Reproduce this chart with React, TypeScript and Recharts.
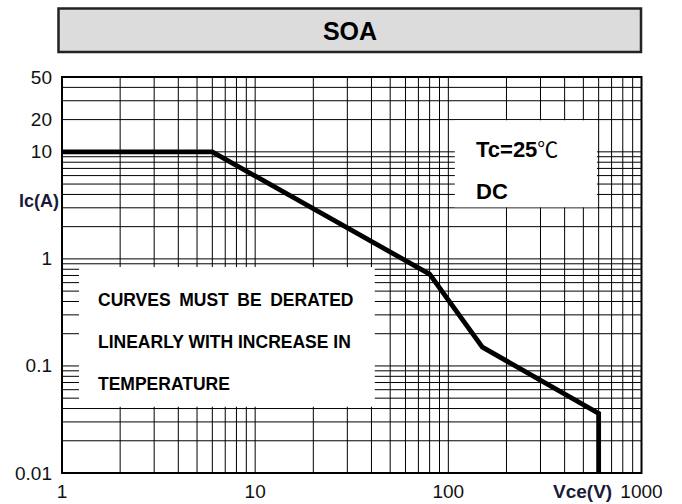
import React from "react";
import { LineChart, Line, XAxis, YAxis, CartesianGrid, ReferenceArea } from "recharts";

// ---- data ----
const vceValues = [1, 6, 80, 150, 600, 600];
const icValues = [10, 10, 0.72, 0.15, 0.036, 0.01];

const xGridTicks = [1, 2, 3, 4, 5, 6, 7, 8, 9, 10, 20, 30, 40, 50, 60, 70, 80, 90, 100, 200, 300, 400, 500, 600, 700, 800, 900, 1000];
const yGridTicks = [
  0.01, 0.02, 0.03, 0.04, 0.05, 0.06, 0.07, 0.08, 0.09,
  0.1, 0.2, 0.3, 0.4, 0.5, 0.6, 0.7, 0.8, 0.9,
  1, 2, 3, 4, 5, 6, 7, 8, 9,
  10, 20, 30, 40, 50,
];
const xTickLabels = [1, 10, 100, 1000];
const yTickLabels = [0.01, 0.1, 1, 10, 20, 50];

const titleText = "SOA";
const xAxisTitle = "Vce(V)";
const yAxisTitle = "Ic(A)";
const condLines = ["Tc=25", "DC"];
const noteLines = ["CURVES MUST BE DERATED", "LINEARLY WITH INCREASE IN", "TEMPERATURE"];

const data = vceValues.map((v, i) => ({ vce: v, ic: icValues[i] }));

const FONT = "'Liberation Sans', Arial, Helvetica, sans-serif";

const renderXTick = (props: any) => {
  const { x, y, payload } = props;
  if (!xTickLabels.includes(payload.value)) return <g />;
  return (
    <text x={x} y={y + 25} textAnchor="middle" fontFamily={FONT} fontSize={19} fill="#111">
      {String(payload.value)}
    </text>
  );
};

const renderYTick = (props: any) => {
  const { x, y, payload } = props;
  if (!yTickLabels.includes(payload.value)) return <g />;
  return (
    <text x={x} y={y + 6.5} textAnchor="end" fontFamily={FONT} fontSize={19} fill="#111">
      {String(payload.value)}
    </text>
  );
};

export default function App() {
  return (
    <div style={{ position: "absolute", left: 0, top: 0, width: 682, height: 504, background: "#fff" }}>
      <LineChart
        width={682}
        height={504}
        data={data}
        margin={{ top: 77, right: 40.5, bottom: 0, left: 0 }}
      >
        <CartesianGrid stroke="#000" strokeWidth={1} />
        <XAxis
          dataKey="vce"
          type="number"
          scale="log"
          domain={[1, 1000]}
          ticks={xGridTicks}
          allowDataOverflow
          height={31}
          axisLine={false}
          tickLine={false}
          tickSize={0}
          tickMargin={0}
          tick={renderXTick}
          interval={0}
        />
        <YAxis
          type="number"
          scale="log"
          domain={[0.01, 50]}
          ticks={yGridTicks}
          allowDataOverflow
          width={62}
          axisLine={false}
          tickLine={false}
          tickSize={10}
          tickMargin={0}
          tick={renderYTick}
          interval={0}
        />
        <ReferenceArea x1={108} x2={588} y1={3.04} y2={19.7} fill="#fff" fillOpacity={1} stroke="none" ifOverflow="visible" />
        <ReferenceArea x1={1.225} x2={41.6} y1={0.0416} y2={0.84} fill="#fff" fillOpacity={1} stroke="none" ifOverflow="visible" />
        <Line
          dataKey="ic"
          type="linear"
          stroke="#000"
          strokeWidth={4.8}
          dot={false}
          isAnimationActive={false}
          strokeLinejoin="miter"
        />
        <ReferenceArea x1={1} x2={1000} y1={0.01} y2={50} fill="none" stroke="#000" strokeWidth={2} ifOverflow="visible" />
      </LineChart>
      <svg
        width={682}
        height={504}
        style={{ position: "absolute", left: 0, top: 0, pointerEvents: "none" }}
      >
        <rect x={58.5} y={8.5} width={582.5} height={43.5} fill="#dcdcdc" stroke="#222" strokeWidth={2.5} />
        <text x={350} y={40} textAnchor="middle" fontFamily={FONT} fontWeight="bold" fontSize={25} fill="#000">
          {titleText}
        </text>
        <text x={476} y={157} fontFamily={FONT} fontWeight="bold" fontSize={22} fill="#000">
          {condLines[0]}
          <tspan fontFamily="'Noto Sans CJK SC', 'DejaVu Sans', sans-serif" fontWeight="normal" fontSize={21}>℃</tspan>
        </text>
        <text x={476} y={199} fontFamily={FONT} fontWeight="bold" fontSize={22} fill="#000">
          {condLines[1]}
        </text>
        <text x={98} y={306} fontFamily={FONT} fontWeight="bold" fontSize={17.5} wordSpacing={3.7} fill="#000">
          {noteLines[0]}
        </text>
        <text x={98} y={348} fontFamily={FONT} fontWeight="bold" fontSize={17.5} fill="#000">
          {noteLines[1]}
        </text>
        <text x={98} y={390} fontFamily={FONT} fontWeight="bold" fontSize={17.5} fill="#000">
          {noteLines[2]}
        </text>
        <text x={59} y={207} textAnchor="end" fontFamily={FONT} fontWeight="bold" fontSize={18} fill="#1a1a3a">
          {yAxisTitle}
        </text>
        <text x={553} y={498} fontFamily={FONT} fontWeight="bold" fontSize={19} fill="#1a1a3a">
          {xAxisTitle}
        </text>
      </svg>
    </div>
  );
}
